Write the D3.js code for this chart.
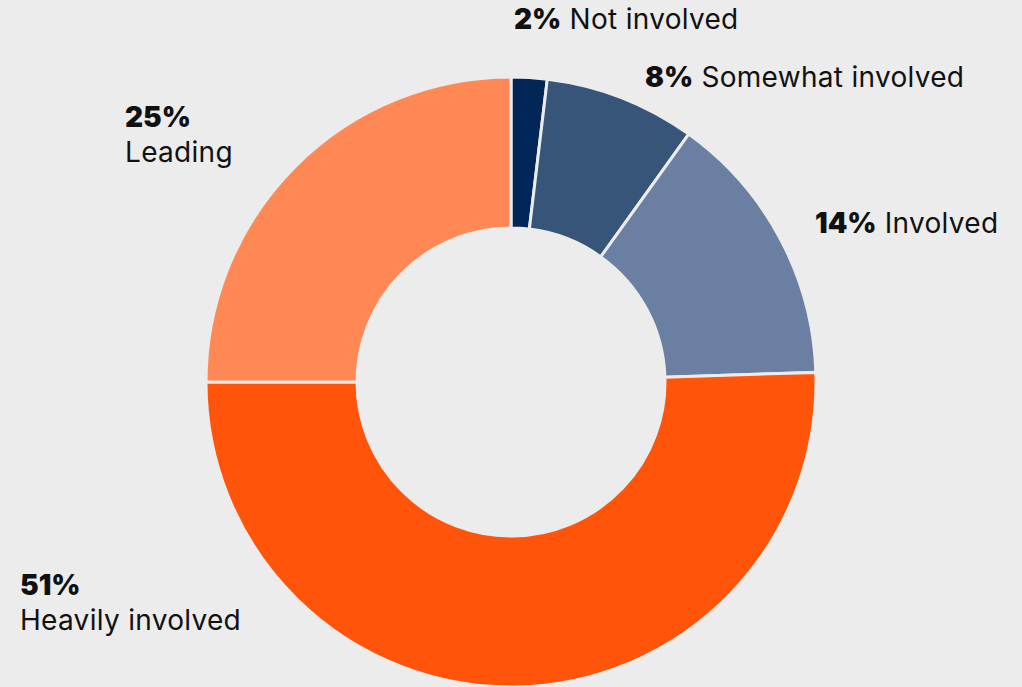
<!DOCTYPE html>
<html>
<head>
<meta charset="utf-8">
<script src="https://cdn.jsdelivr.net/npm/d3@7"></script>
<style>
  html, body { margin: 0; padding: 0; background: #ececec; }
  svg { display: block; }
  text { font-family: Inter, "Noto Sans", sans-serif; fill: #111; }
  .pct { font-weight: 900; }
  .name { letter-spacing: 0.3px; }
</style>
</head>
<body>
<div id="chart"></div>
<script>
// data
const categories = ['Not involved', 'Somewhat involved', 'Involved', 'Heavily involved', 'Leading'];
const pctLabels = ['2%', '8%', '14%', '51%', '25%'];
// slice sizes as measured off the ring (labels are rounded)
const shares = [1.9, 8, 14.6, 50.5, 25];
const colors = ['#022658', '#375578', '#6b7fa2', '#ff540a', '#ff8855'];

const width = 1022, height = 687;
const cx = 511, cy = 382;
const outerR = 305, innerR = 154;

const svg = d3.select('#chart').append('svg')
    .attr('width', width)
    .attr('height', height);

const data = categories.map((c, i) => ({name: c, label: pctLabels[i], value: shares[i], color: colors[i]}));

const pie = d3.pie()
    .value(d => d.value)
    .sort(null);

const arc = d3.arc()
    .innerRadius(innerR)
    .outerRadius(outerR);

const g = svg.append('g')
    .attr('transform', `translate(${cx},${cy})`);

g.selectAll('path')
    .data(pie(data))
    .join('path')
    .attr('d', arc)
    .attr('fill', d => d.data.color)
    .attr('stroke', '#ececec')
    .attr('stroke-width', 3);

// label anchors
const labelPos = [
    {x: 514, y: 29, inline: true},
    {x: 645, y: 87, inline: true},
    {x: 815, y: 233, inline: true},
    {x: 20, y: 595, inline: false},
    {x: 125, y: 127, inline: false}
];

data.forEach((d, i) => {
    const p = labelPos[i];
    const t = svg.append('text')
        .attr('x', p.x)
        .attr('y', p.y)
        .attr('font-size', 28);
    t.append('tspan').attr('class', 'pct').text(d.label);
    if (p.inline) {
        t.append('tspan').attr('class', 'name').text(' ' + d.name);
    } else {
        t.append('tspan').attr('class', 'name').attr('x', p.x).attr('dy', 35).text(d.name);
    }
});
</script>
</body>
</html>
